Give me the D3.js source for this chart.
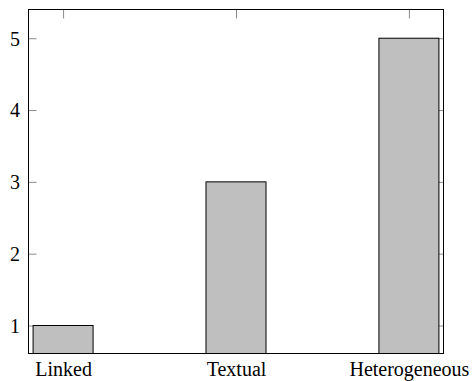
<!DOCTYPE html>
<html>
<head>
<meta charset="utf-8">
<script src="https://cdn.jsdelivr.net/npm/d3@7"></script>
<style>
  html, body { margin: 0; padding: 0; background: #fff; }
  svg { display: block; }
  svg text { font-family: 'Liberation Serif' !important; }
</style>
</head>
<body>
<svg id="chart" width="472" height="381" style="font-family: 'Liberation Serif'"></svg>
<script>
const categories = ["Linked", "Textual", "Heterogeneous"];
const values = [1, 3, 5];
const yTicks = [1, 2, 3, 4, 5];

const plot = { left: 28.5, right: 443.5, top: 9.5, bottom: 353.5 };
const fontSize = 20;

const svg = d3.select("#chart");

const x = d3.scaleLinear().domain([-0.2, categories.length - 1 + 0.2]).range([plot.left, plot.right]);
const y = d3.scaleLinear().domain([0.61, 5.4]).range([plot.bottom, plot.top]);
const barW = 60;

function styleAxis(g, showText) {
  g.attr("font-family", "Liberation Serif").attr("font-size", fontSize);
  g.select(".domain").remove();
  g.selectAll(".tick line").attr("stroke", "#8a8a8a").attr("stroke-width", 1);
  if (!showText) g.selectAll(".tick text").remove();
  else g.selectAll(".tick text").attr("fill", "#000")
        .attr("style", "font-family: 'Liberation Serif'; font-size: " + fontSize + "px");
}

// left y axis
const gl = svg.append("g").attr("transform", `translate(${plot.left},0)`)
  .call(d3.axisLeft(y).tickValues(yTicks).tickFormat(d3.format("d")).tickSizeInner(-8).tickSizeOuter(0).tickPadding(8.5));
styleAxis(gl, true);
gl.selectAll(".tick text").attr("dy", "0.34em");

// right y axis
const gr = svg.append("g").attr("transform", `translate(${plot.right},0)`)
  .call(d3.axisRight(y).tickValues(yTicks).tickSizeInner(-8).tickSizeOuter(0));
styleAxis(gr, false);

// top x axis
const gt = svg.append("g").attr("transform", `translate(0,${plot.top})`)
  .call(d3.axisTop(x).tickValues(d3.range(categories.length)).tickSizeInner(-9).tickSizeOuter(0));
styleAxis(gt, false);

// bottom x axis
const gb = svg.append("g").attr("transform", `translate(0,${plot.bottom})`)
  .call(d3.axisBottom(x).tickValues(d3.range(categories.length)).tickFormat(i => categories[i]).tickSizeInner(-9).tickSizeOuter(0));
styleAxis(gb, true);
gb.selectAll(".tick text").attr("y", 22.5).attr("dy", "0");

// bars
svg.append("g").selectAll("rect").data(values).enter().append("rect")
  .attr("x", (d, i) => x(i) - barW / 2)
  .attr("width", barW)
  .attr("y", d => y(d))
  .attr("height", d => plot.bottom - y(d))
  .attr("fill", "#bfbfbf")
  .attr("stroke", "#000")
  .attr("stroke-width", 1);

// frame
svg.append("rect")
  .attr("x", plot.left).attr("y", plot.top)
  .attr("width", plot.right - plot.left).attr("height", plot.bottom - plot.top)
  .attr("fill", "none").attr("stroke", "#000").attr("stroke-width", 1);
</script>
</body>
</html>
